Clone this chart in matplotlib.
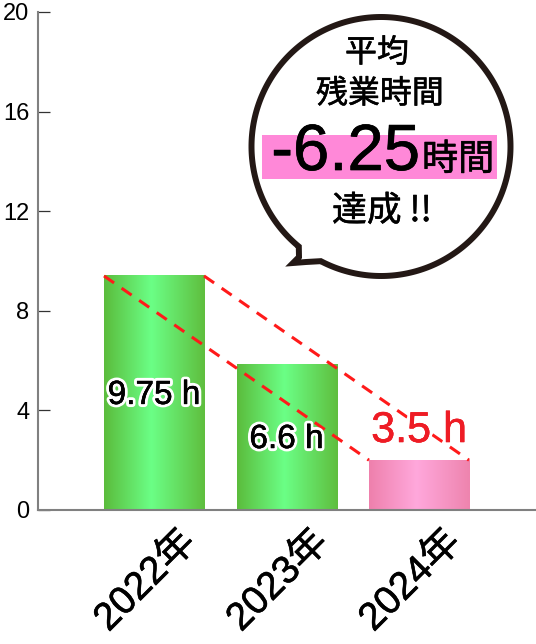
import numpy as np
import matplotlib
matplotlib.use('Agg')
import matplotlib.pyplot as plt
from matplotlib.colors import LinearSegmentedColormap
from matplotlib.patches import PathPatch, Rectangle
from matplotlib.path import Path
from matplotlib.transforms import ScaledTranslation
import matplotlib.patheffects as pe

# data
years = ['2022年', '2023年', '2024年']
heights = [9.4, 5.85, 2.0]
value_labels = ['9.75 h', '6.6 h', '3.5 h']
yticks = [0, 4, 8, 12, 16, 20]

bubble_top = ['平均', '残業時間']
bubble_value = '-6.25'
bubble_unit = '時間'
bubble_bottom = '達成 !!'

plt.rcParams['font.family'] = ['Liberation Sans', 'Noto Sans CJK JP', 'DejaVu Sans']
cjk = ['Noto Sans CJK JP', 'DejaVu Sans']


def heavy(c='black', w=0.4):
    # slightly thicker glyphs than the regular face
    return [pe.Stroke(linewidth=w, foreground=c), pe.Normal()]


W, H = 536, 644
fig = plt.figure(figsize=(W / 100, H / 100), dpi=100)
ax = fig.add_axes([37.7 / W, 134 / H, 1 - 37.7 / W, 498 / H])

x = np.arange(len(years))
bw = 0.755

green = LinearSegmentedColormap.from_list('g', [(0, '#5BBC3C'), (0.47, '#6BFF86'), (1, '#5FBE3E')])
pink = LinearSegmentedColormap.from_list('p', [(0, '#EE80AC'), (0.47, '#FFA8DC'), (1, '#EE84AE')])
grad = np.linspace(0, 1, 256).reshape(1, -1)
cmaps = [green, green, pink]
for xi, h, cm in zip(x, heights, cmaps):
    ax.imshow(grad, extent=(xi - bw / 2, xi + bw / 2, 0, h), aspect='auto',
              cmap=cm, interpolation='bilinear', zorder=2)

# dashed connecting lines (corner to corner)
for side in (-1, 1):
    ax.plot([x[0] + side * bw / 2, x[-1] + side * bw / 2], [heights[0], heights[-1]],
            color='#FF1A1A', lw=2.2, ls=(0, (4, 3)), zorder=3)

# value labels
label_y = [4.26, 2.49, 2.73]
label_size = [24, 24, 31]
label_col = ['black', 'black', '#EE1C25']
for xi, ly, txt, fs, c in zip(x, label_y, value_labels, label_size, label_col):
    ax.text(xi, ly, txt, ha='center', va='baseline', fontsize=fs, color=c, zorder=4,
            path_effects=[pe.withStroke(linewidth=4.5, foreground='white'),
                          pe.Stroke(linewidth=0.35, foreground=c), pe.Normal()])

ax.set_xlim(-0.878, 2.883)
ax.set_ylim(0, 20)
ax.set_yticks(yticks)
ax.set_xticks([])
ax.tick_params(axis='y', direction='in', length=8.6, width=0.9, color='#333333',
               labelsize=17, pad=6)
for s in ('top', 'right'):
    ax.spines[s].set_visible(False)
for s in ('left', 'bottom'):
    ax.spines[s].set_color('#808080')
    ax.spines[s].set_linewidth(1.5)

# rotated year labels
off = ScaledTranslation(-8 / 100, -71 / 100, fig.dpi_scale_trans)
for xi, yr in zip(x, years):
    ax.text(xi, 0, yr, transform=ax.get_xaxis_transform() + off, rotation=45,
            rotation_mode='anchor', ha='center', va='center', fontsize=28, clip_on=False,
            path_effects=heavy())

# speech bubble overlay (pixel coordinates)
ov = fig.add_axes([0, 0, 1, 1], zorder=5)
ov.set_xlim(0, W)
ov.set_ylim(H, 0)
ov.axis('off')
ov.patch.set_alpha(0)

cx, cy, r = 381, 146.5, 129.5
th = np.radians(np.linspace(117.7, 129.4 - 360, 300))
pts = list(zip(cx + r * np.cos(th), cy + r * np.sin(th)))
pts += [(299, 257), (293, 263), (306, 262)]
pts.append(pts[0])
codes = [Path.MOVETO] + [Path.LINETO] * (len(pts) - 2) + [Path.CLOSEPOLY]
ov.add_patch(PathPatch(Path(pts, codes), facecolor='white', edgecolor='#231815',
                       lw=4.3, joinstyle='miter'))

ov.add_patch(Rectangle((262, 135), 235, 44, facecolor='#FF88D8', edgecolor='none'))
ov.text(377, 62, bubble_top[0], ha='center', va='baseline', fontsize=23,
        family=cjk, path_effects=heavy())
ov.text(380, 103, bubble_top[1], ha='center', va='baseline', fontsize=23,
        family=cjk, path_effects=heavy())
ov.text(420, 170, bubble_value, ha='right', va='baseline', fontsize=47,
        path_effects=heavy(w=0.5))
ov.text(422, 170, bubble_unit, ha='left', va='baseline', fontsize=26,
        family=cjk, path_effects=heavy())
ov.text(382, 221, bubble_bottom, ha='center', va='baseline', fontsize=25,
        family=cjk, path_effects=heavy())

fig.savefig('out.png', dpi=100)
